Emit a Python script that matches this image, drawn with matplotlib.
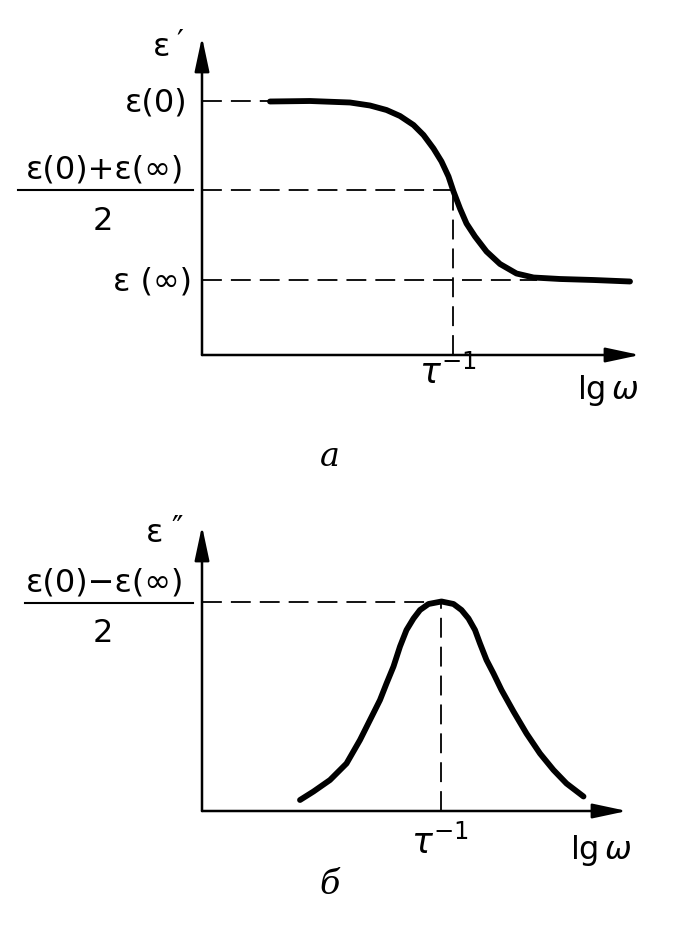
import numpy as np
import matplotlib
matplotlib.use("Agg")
import matplotlib.pyplot as plt

# ---- data (arbitrary units) ----
# panel a: real part eps'(lg w)
lgw_a = [1.36, 2.16, 2.96, 3.36, 3.69, 3.96, 4.23, 4.43, 4.63, 4.79, 4.93, 5.03,
         5.16, 5.29, 5.46, 5.69, 5.96, 6.29, 6.63, 7.16, 7.83, 8.56]
eps1 = [5.07, 5.08, 5.05, 4.99, 4.90, 4.78, 4.60, 4.40, 4.13, 3.87, 3.57, 3.27,
        2.93, 2.63, 2.37, 2.07, 1.82, 1.63, 1.55, 1.52, 1.50, 1.47]
eps0 = 5.08
eps_inf = 1.50
eps_mid = 3.30
tau_a = 5.02

# panel б: imaginary part eps''(lg w)
lgw_b = [1.96, 2.23, 2.56, 2.89, 3.16, 3.36, 3.56, 3.69, 3.83, 3.96, 4.09, 4.23,
         4.36, 4.53, 4.79, 5.03, 5.19, 5.33, 5.46, 5.56, 5.69, 5.83, 5.99, 6.23,
         6.49, 6.76, 7.03, 7.29, 7.63]
eps2 = [0.22, 0.39, 0.62, 0.95, 1.42, 1.82, 2.22, 2.55, 2.89, 3.29, 3.62, 3.85,
        4.02, 4.14, 4.19, 4.14, 4.02, 3.85, 3.62, 3.35, 3.02, 2.75, 2.42, 1.99,
        1.55, 1.15, 0.82, 0.55, 0.29]
eps2_max = 4.19
tau_b = 4.78

W, H = 675, 939
fig = plt.figure(figsize=(W / 100, H / 100), dpi=100)

LBL = 23
DASH = (0, (11, 5))


def make_axes(ox, oy):
    # origin in pixels, 50 px per unit
    ax = fig.add_axes([ox / W, (H - oy) / H, 450 / W, 325 / H])
    ax.set_xlim(0, 9)
    ax.set_ylim(0, 6.5)
    ax.axis('off')
    return ax


def arrows(ax, xend, yend):
    ap = dict(arrowstyle='-|>,head_length=0.75,head_width=0.16', lw=1.8,
              color='black', mutation_scale=28, shrinkA=0, shrinkB=0)
    ax.annotate('', xy=(xend, 0), xytext=(0, 0), arrowprops=ap, annotation_clip=False)
    ax.annotate('', xy=(0, yend), xytext=(0, 0), arrowprops=ap, annotation_clip=False)


def txt(ax, x, y, s, va='center', **kw):
    kw.setdefault('fontsize', LBL)
    kw.setdefault('ha', 'center')
    ax.text(x, y, s, va=va, clip_on=False, **kw)


# ---------- panel a ----------
ax1 = make_axes(202, 355)
arrows(ax1, 8.76, 6.36)
ax1.plot(lgw_a, eps1, color='black', lw=4.2, solid_capstyle='round', solid_joinstyle='round')
ax1.plot([0, lgw_a[0]], [eps0, eps0], color='black', lw=1.3, ls=DASH)
ax1.plot([0, tau_a], [eps_mid, eps_mid], color='black', lw=1.3, ls=DASH)
ax1.plot([0, 6.7], [eps_inf, eps_inf], color='black', lw=1.3, ls=DASH)
ax1.plot([tau_a, tau_a], [0, eps_mid], color='black', lw=1.3, ls=DASH)

txt(ax1, -0.80, 6.16, 'ε')
txt(ax1, -0.44, 6.08, '′', va='baseline', fontsize=22)
txt(ax1, -0.3, eps0 - 0.05, 'ε(0)', ha='right')
txt(ax1, -1.94, eps_mid + 0.40, 'ε(0)+ε(∞)')
ax1.plot([-3.68, -0.18], [eps_mid, eps_mid], color='black', lw=1.5, clip_on=False)
txt(ax1, -1.98, eps_mid - 0.64, '2')
txt(ax1, -0.2, eps_inf - 0.04, 'ε (∞)', ha='right')
txt(ax1, tau_a - 0.1, -0.36, r'$\tau^{-1}$', fontsize=LBL + 2)
txt(ax1, 8.12, -0.72, r'lg$\,\omega$')
txt(ax1, 2.56, -2.04, 'a', fontsize=LBL + 1, style='italic', family='DejaVu Serif')

# ---------- panel б ----------
ax2 = make_axes(202, 811)
arrows(ax2, 8.5, 5.7)
ax2.plot(lgw_b, eps2, color='black', lw=4.2, solid_capstyle='round', solid_joinstyle='round')
ax2.plot([0, tau_b], [eps2_max, eps2_max], color='black', lw=1.3, ls=DASH)
ax2.plot([tau_b, tau_b], [0, eps2_max], color='black', lw=1.3, ls=DASH)

txt(ax2, -0.94, 5.54, 'ε')
txt(ax2, -0.50, 5.48, '″', va='baseline', fontsize=22)
txt(ax2, -1.94, eps2_max + 0.36, 'ε(0)−ε(∞)')
ax2.plot([-3.54, -0.18], [eps2_max - 0.02, eps2_max - 0.02], color='black', lw=1.5, clip_on=False)
txt(ax2, -1.98, eps2_max - 0.64, '2')
txt(ax2, tau_b - 0.02, -0.64, r'$\tau^{-1}$', fontsize=LBL + 2)
txt(ax2, 7.98, -0.78, r'lg$\,\omega$')
txt(ax2, 2.56, -1.48, 'б', fontsize=LBL + 1, style='italic', family='DejaVu Serif')

fig.savefig('out.png', dpi=100, facecolor='white')
